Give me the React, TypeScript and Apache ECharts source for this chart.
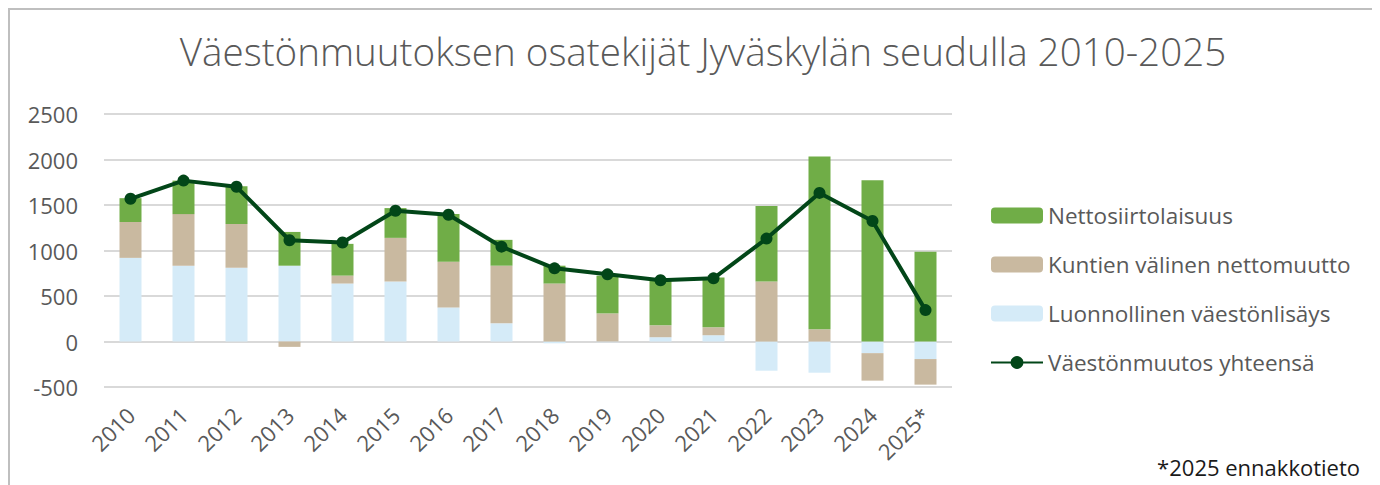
import React, { useEffect, useRef } from "react";
import * as echarts from "echarts";

const years = ["2010","2011","2012","2013","2014","2015","2016","2017","2018","2019","2020","2021","2022","2023","2024","2025*"];
const luonnollinen = [919, 833, 811, 833, 637, 658, 375, 200, -20, -8, 47, 69, -321, -343, -128, -193];
const kuntienValinen = [394, 567, 480, -59, 87, 481, 502, 633, 637, 309, 131, 87, 658, 134, -302, -281];
const nettosiirto = [262, 368, 415, 371, 349, 327, 523, 284, 196, 415, 495, 546, 830, 1900, 1772, 986];
const yhteensa = [1568, 1768, 1700, 1113, 1088, 1437, 1393, 1042, 804, 738, 673, 694, 1131, 1633, 1324, 345];

const FONT = "'Open Sans', 'Noto Sans', sans-serif";
const GREY = "#595959";

export default function App() {
  const ref = useRef<HTMLDivElement>(null);
  useEffect(() => {
    if (!ref.current) return;
    const chart = echarts.init(ref.current, null, { renderer: "svg" });
    chart.setOption({
      animation: false,
      textStyle: { fontFamily: FONT },
      title: {
        text: "Väestönmuutoksen osatekijät Jyväskylän seudulla 2010-2025",
        left: 688,
        textAlign: "center",
        top: 16,
        textStyle: { fontFamily: FONT, fontSize: 38.6, fontWeight: 300, color: GREY },
      },
      legend: {
        orient: "vertical",
        left: 975,
        top: 189,
        itemWidth: 52,
        itemHeight: 16,
        itemGap: 26,
        textStyle: { fontFamily: FONT, fontSize: 22.5, color: GREY },
        data: ["Nettosiirtolaisuus", "Kuntien välinen nettomuutto", "Luonnollinen väestönlisäys", "Väestönmuutos yhteensä"],
      },
      grid: { left: 94, width: 848, top: 104, bottom: 98 },
      xAxis: {
        type: "category",
        data: years,
        axisLine: { show: false },
        axisTick: { show: false },
        axisLabel: { rotate: 45, margin: 24, fontFamily: FONT, fontSize: 22, color: GREY, interval: 0 },
      },
      yAxis: {
        type: "value",
        min: -500,
        max: 2500,
        interval: 500,
        axisLine: { show: false },
        axisTick: { show: false },
        axisLabel: { margin: 26, fontFamily: FONT, fontSize: 22, color: GREY, formatter: (v: number) => String(v) },
        splitLine: { lineStyle: { color: "#d9d9d9", width: 2 } },
      },
      series: [
        {
          name: "Luonnollinen väestönlisäys",
          type: "bar",
          stack: "a",
          barWidth: 22,
          data: luonnollinen,
          itemStyle: { color: "#d5ebf8" },
        },
        {
          name: "Kuntien välinen nettomuutto",
          type: "bar",
          stack: "a",
          barWidth: 22,
          data: kuntienValinen,
          itemStyle: { color: "#c9b9a0" },
        },
        {
          name: "Nettosiirtolaisuus",
          type: "bar",
          stack: "a",
          barWidth: 22,
          data: nettosiirto,
          itemStyle: { color: "#70ad47" },
        },
        {
          name: "Väestönmuutos yhteensä",
          type: "line",
          data: yhteensa,
          symbol: "circle",
          symbolSize: 12,
          lineStyle: { color: "#024618", width: 4 },
          itemStyle: { color: "#024618" },
          z: 5,
        },
      ],
      graphic: [
        {
          type: "text",
          right: 20,
          top: 446,
          style: { text: "*2025 ennakkotieto", font: "22px 'Open Sans', sans-serif", fill: "#1a1a1a" },
        },
      ],
    });
    return () => chart.dispose();
  }, []);
  return (
    <div
      ref={ref}
      style={{
        width: 1372,
        height: 477,
        boxSizing: "border-box",
        borderTop: "2px solid #bfbfbf",
        borderLeft: "2px solid #bfbfbf",
      }}
    />
  );
}
